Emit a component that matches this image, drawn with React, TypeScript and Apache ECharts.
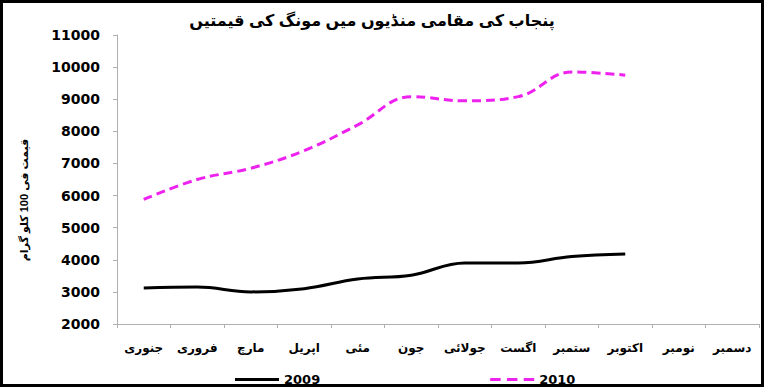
import React, { useEffect, useRef } from "react";
import * as echarts from "echarts";

const titleText = "پنجاب کی مقامی منڈیوں میں مونگ کی قیمتیں";
const yAxisTitle = "قیمت فی 100 کلو گرام";
const months = ["جنوری", "فروری", "مارچ", "اپریل", "مئی", "جون", "جولائی", "اگست", "ستمبر", "اکتوبر", "نومبر", "دسمبر"];
const series2009 = [3120, 3150, 3000, 3100, 3400, 3520, 3900, 3900, 4100, 4180, null, null];
const series2010 = [5880, 6500, 6850, 7400, 8200, 9080, 8950, 9080, 9850, 9750, null, null];
const yMin = 2000;
const yMax = 11000;
const yStep = 1000;

const FONT = "Arial, 'Liberation Sans', 'DejaVu Sans', sans-serif";
const NUMFONT = "'DejaVu Sans', Arial, sans-serif";

export default function App() {
  const ref = useRef<HTMLDivElement>(null);
  useEffect(() => {
    if (!ref.current) return;
    const chart = echarts.init(ref.current, undefined, { renderer: "svg" });
    chart.setOption({
      animation: false,
      backgroundColor: "#fff",
      textStyle: { fontFamily: FONT },
      title: {
        text: titleText,
        left: 367,
        top: 7,
        textAlign: "center",
        textStyle: { fontSize: 16, fontWeight: "bold", color: "#000", fontFamily: FONT },
      },
      grid: { left: 117, right: 5, top: 35, bottom: 64 },
      legend: {
        left: 230,
        top: 368,
        itemWidth: 44,
        itemHeight: 10,
        itemGap: 170,
        itemTextGap: 4,
        textStyle: { fontSize: 13, fontWeight: "bold", color: "#000", fontFamily: NUMFONT },
        data: [
          { name: "2009", icon: "path://M0,0L44,0L44,3L0,3Z", itemStyle: { color: "#000" } },
          {
            name: "2010",
            icon: "path://M0,0h10v3h-10zM16,0h10v3h-10zM32,0h10v3h-10z",
            itemStyle: { color: "#ee22ee" },
          },
        ],
      },
      xAxis: {
        type: "category",
        data: months,
        boundaryGap: true,
        axisLine: { lineStyle: { color: "#b0b0b0", width: 1 } },
        axisTick: { show: true, length: 4, lineStyle: { color: "#b0b0b0" } },
        axisLabel: { interval: 0, margin: 18, fontSize: 12, fontWeight: "bold", color: "#000", fontFamily: FONT },
        splitLine: { show: false },
      },
      yAxis: {
        type: "value",
        min: yMin,
        max: yMax,
        interval: yStep,
        axisLine: { show: true, lineStyle: { color: "#b0b0b0", width: 1 } },
        axisTick: { show: true, length: 4, lineStyle: { color: "#b0b0b0" } },
        axisLabel: {
          margin: 17,
          fontSize: 14,
          fontWeight: "bold",
          color: "#000",
          fontFamily: NUMFONT,
          formatter: (v: number) => String(v),
        },
        splitLine: { show: false },
      },
      series: [
        {
          name: "2009",
          type: "line",
          data: series2009,
          smooth: 0.4,
          showSymbol: false,
          symbol: "none",
          color: "#000",
          lineStyle: { color: "#000", width: 3 },
        },
        {
          name: "2010",
          type: "line",
          data: series2010,
          smooth: 0.4,
          showSymbol: false,
          symbol: "none",
          color: "#ee22ee",
          lineStyle: { color: "#ee22ee", width: 3, type: [9, 5] },
        },
      ],
      graphic: [
        {
          type: "text",
          x: 24,
          y: 200,
          rotation: Math.PI / 2,
          style: {
            text: yAxisTitle,
            fontSize: 11,
            fontWeight: "bold",
            fill: "#000",
            fontFamily: FONT,
            align: "center",
            verticalAlign: "middle",
          },
        },
        {
          type: "rect",
          shape: { x: 1.5, y: 1.5, width: 761, height: 384 },
          style: { fill: "none", stroke: "#000", lineWidth: 3 },
          silent: true,
        },
      ],
    });
    return () => chart.dispose();
  }, []);
  return (
    <div
      ref={ref}
      style={{ position: "absolute", left: 0, top: 0, width: 764, height: 388 }}
    />
  );
}
